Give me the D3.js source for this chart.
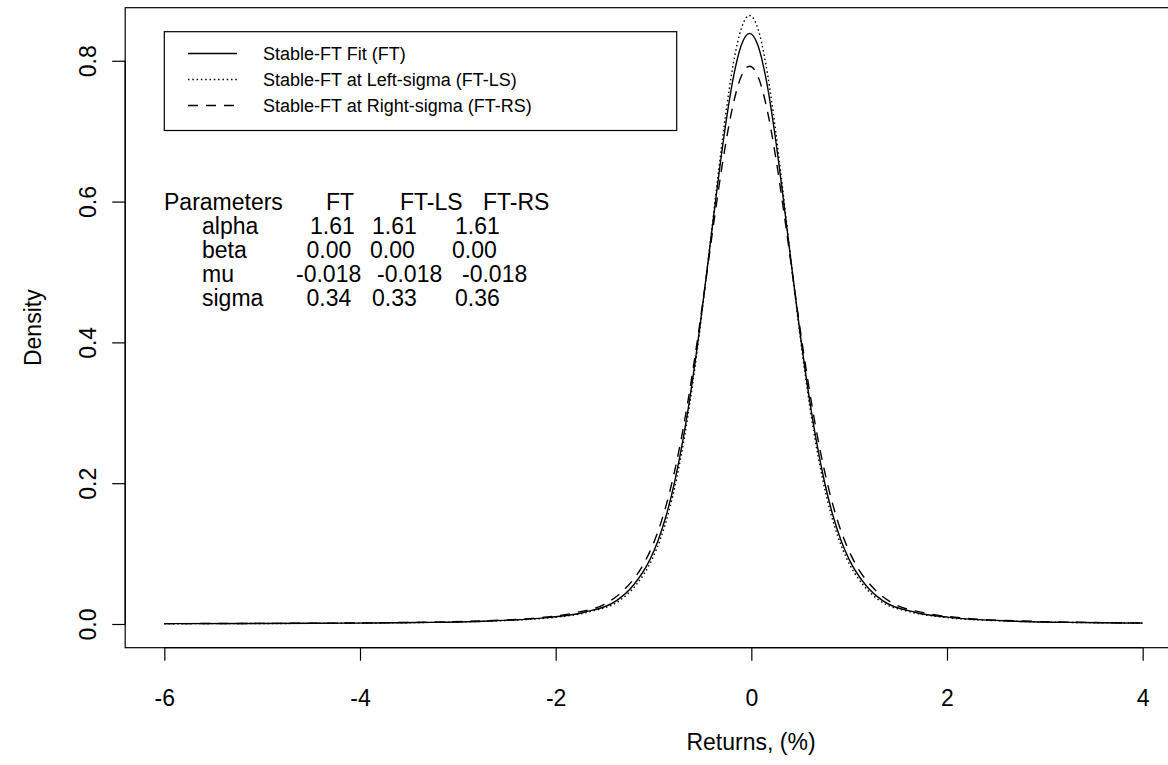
<!DOCTYPE html>
<html><head><meta charset="utf-8">
<script src="https://cdn.jsdelivr.net/npm/d3@7/dist/d3.min.js"></script>
<style>
body{margin:0;background:#fff}
text{font-family:"Liberation Sans",Arial,Helvetica,sans-serif;fill:#000}
</style>
</head><body>
<svg id="chart" width="1168" height="765"></svg>
<script>
// ---- data ----
const xTicks = [-6, -4, -2, 0, 2, 4];
const yTicks = [0.0, 0.2, 0.4, 0.6, 0.8];
const yTickLabels = ["0.0", "0.2", "0.4", "0.6", "0.8"];

const returnsFT = [-6, -5.118, -4.098, -3.418, -2.738, -2.058, -1.718, -1.378, -1.208, -1.038, -0.953, -0.868, -0.783, -0.698, -0.613, -0.528, -0.443, -0.358, -0.273, -0.188, -0.103, -0.018,
  0.067, 0.152, 0.237, 0.322, 0.407, 0.492, 0.577, 0.662, 0.747, 0.832, 0.917, 1.002, 1.172, 1.342, 1.682, 2.022, 2.702, 3.382, 4];
const densityFT = [0.0005, 0.0007, 0.0013, 0.0021, 0.0040, 0.0094, 0.0164, 0.0332, 0.0547, 0.0911, 0.1187, 0.1551, 0.2024, 0.2622, 0.3351, 0.4200, 0.5136, 0.6095, 0.6992, 0.7731, 0.8219, 0.8389,
  0.8219, 0.7731, 0.6992, 0.6095, 0.5136, 0.4200, 0.3351, 0.2622, 0.2024, 0.1551, 0.1187, 0.0911, 0.0547, 0.0332, 0.0164, 0.0094, 0.0040, 0.0021, 0.0013];

const returnsLS = [-6, -4.968, -3.978, -3.318, -2.658, -1.998, -1.668, -1.338, -1.173, -1.008, -0.9255, -0.843, -0.7605, -0.678, -0.5955, -0.513, -0.4305, -0.348, -0.2655, -0.183, -0.1005, -0.018,
  0.0645, 0.147, 0.2295, 0.312, 0.3945, 0.477, 0.5595, 0.642, 0.7245, 0.807, 0.8895, 0.972, 1.137, 1.302, 1.632, 1.962, 2.622, 3.282, 4];
const densityLS = [0.0004, 0.0007, 0.0013, 0.0022, 0.0042, 0.0097, 0.0169, 0.0342, 0.0564, 0.0938, 0.1223, 0.1598, 0.2085, 0.2701, 0.3452, 0.4328, 0.5291, 0.6279, 0.7204, 0.7965, 0.8468, 0.8643,
  0.8468, 0.7965, 0.7204, 0.6279, 0.5291, 0.4328, 0.3452, 0.2701, 0.2085, 0.1598, 0.1223, 0.0938, 0.0564, 0.0342, 0.0169, 0.0097, 0.0042, 0.0022, 0.0013];

const returnsRS = [-6, -5.418, -4.338, -3.618, -2.898, -2.178, -1.818, -1.458, -1.278, -1.098, -1.008, -0.918, -0.828, -0.738, -0.648, -0.558, -0.468, -0.378, -0.288, -0.198, -0.108, -0.018,
  0.072, 0.162, 0.252, 0.342, 0.432, 0.522, 0.612, 0.702, 0.792, 0.882, 0.972, 1.062, 1.242, 1.422, 1.782, 2.142, 2.862, 3.582, 4];
const densityRS = [0.0005, 0.0007, 0.0012, 0.0020, 0.0038, 0.0089, 0.0155, 0.0314, 0.0517, 0.0860, 0.1121, 0.1465, 0.1912, 0.2476, 0.3165, 0.3967, 0.4850, 0.5756, 0.6604, 0.7301, 0.7762, 0.7923,
  0.7762, 0.7301, 0.6604, 0.5756, 0.4850, 0.3967, 0.3165, 0.2476, 0.1912, 0.1465, 0.1121, 0.0860, 0.0517, 0.0314, 0.0155, 0.0089, 0.0038, 0.0020, 0.0015];

const legendLabels = ["Stable-FT Fit (FT)", "Stable-FT at Left-sigma (FT-LS)", "Stable-FT at Right-sigma (FT-RS)"];
const paramHeader = ["Parameters", "FT", "FT-LS", "FT-RS"];
const paramNames = ["alpha", "beta", "mu", "sigma"];
const paramFT = ["1.61", "0.00", "-0.018", "0.34"];
const paramLS = ["1.61", "0.00", "-0.018", "0.33"];
const paramRS = ["1.61", "0.00", "-0.018", "0.36"];
const xTitle = "Returns, (%)";
const yTitle = "Density";

// ---- layout ----
const svg = d3.select("#chart");
const L = 125.2, R = 1181.8, T = 7.7, B = 647.7;
const x = d3.scaleLinear().domain([-6.4, 4.4]).range([L, R]);
const y = d3.scaleLinear().domain([-0.03367, 0.87537]).range([B, T]);
const FS = 23;
const FONT = "Liberation Sans, Arial, sans-serif";

svg.append("rect").attr("width", 1168).attr("height", 765).attr("fill", "#fff");

svg.append("clipPath").attr("id", "clip").append("rect")
  .attr("x", L).attr("y", T).attr("width", R - L).attr("height", B - T);

// curves
const series = [
  {xs: returnsFT, ys: densityFT, dash: null},
  {xs: returnsLS, ys: densityLS, dash: "1.5,2.8"},
  {xs: returnsRS, ys: densityRS, dash: "10,8"}
];
const line = d3.line().x(d => x(d[0])).y(d => y(d[1])).curve(d3.curveMonotoneX);
const g = svg.append("g").attr("clip-path", "url(#clip)");
series.forEach(s => {
  g.append("path")
    .attr("d", line(d3.zip(s.xs, s.ys)))
    .attr("fill", "none").attr("stroke", "#000").attr("stroke-width", 1.4)
    .attr("stroke-dasharray", s.dash);
});

// box
svg.append("rect").attr("x", L).attr("y", T).attr("width", R - L).attr("height", B - T)
  .attr("fill", "none").attr("stroke", "#000").attr("stroke-width", 1.2);

// x axis
const xa = svg.append("g").attr("transform", `translate(0,${B})`)
  .call(d3.axisBottom(x).tickValues(xTicks).tickSize(13).tickPadding(29).tickFormat(d => String(d)));
xa.select(".domain").attr("d", `M${x(xTicks[0])},0H${x(xTicks[xTicks.length-1])}`).attr("stroke", "#000").attr("stroke-width", 1.2);
xa.selectAll(".tick line").attr("stroke", "#000").attr("stroke-width", 1.2);
xa.selectAll(".tick text").attr("font-size", FS).attr("font-family", FONT);

// y axis
const ya = svg.append("g").attr("transform", `translate(${L},0)`)
  .call(d3.axisLeft(y).tickValues(yTicks).tickSize(13).tickFormat((d, i) => yTickLabels[i]));
ya.select(".domain").attr("d", `M0,${y(yTicks[0])}V${y(yTicks[yTicks.length-1])}`).attr("stroke", "#000").attr("stroke-width", 1.2);
ya.selectAll(".tick line").attr("stroke", "#000").attr("stroke-width", 1.2);
ya.selectAll(".tick text")
  .attr("font-size", FS).attr("font-family", FONT)
  .attr("x", null).attr("dy", null)
  .attr("text-anchor", "middle")
  .attr("transform", "translate(-29,0) rotate(-90)");

// axis titles
svg.append("text").attr("x", 751).attr("y", 750).attr("text-anchor", "middle")
  .attr("font-size", FS).text(xTitle);
svg.append("text").attr("transform", `translate(41,${(T + B) / 2}) rotate(-90)`)
  .attr("text-anchor", "middle").attr("font-size", FS).text(yTitle);

// legend
const lg = svg.append("g");
lg.append("rect").attr("x", 164.3).attr("y", 31.7).attr("width", 512.4).attr("height", 98.8)
  .attr("fill", "#fff").attr("stroke", "#000").attr("stroke-width", 1.2);
const legY = [53.5, 79.5, 105.5];
series.forEach((s, i) => {
  lg.append("line").attr("x1", 188).attr("x2", 237).attr("y1", legY[i]).attr("y2", legY[i])
    .attr("stroke", "#000").attr("stroke-width", 1.4).attr("stroke-dasharray", s.dash);
  lg.append("text").attr("x", 263).attr("y", legY[i] + 6.3).attr("font-size", 18).text(legendLabels[i]);
});

// parameter table
const pt = svg.append("g").attr("font-size", FS);
const rowY = [210, 234, 258, 282, 306];
const headX = [164, 326, 400, 483];
paramHeader.forEach((t, i) => pt.append("text").attr("x", headX[i]).attr("y", rowY[0]).text(t));
const nameX = 202;
const colFT = [310, 306.5, 296, 306.5];
const colLS = [372, 370, 377, 372];
const colRS = [455, 452, 462, 455];
paramNames.forEach((n, i) => {
  pt.append("text").attr("x", nameX).attr("y", rowY[i + 1]).text(n);
  pt.append("text").attr("x", colFT[i]).attr("y", rowY[i + 1]).text(paramFT[i]);
  pt.append("text").attr("x", colLS[i]).attr("y", rowY[i + 1]).text(paramLS[i]);
  pt.append("text").attr("x", colRS[i]).attr("y", rowY[i + 1]).text(paramRS[i]);
});
</script>
</body></html>
